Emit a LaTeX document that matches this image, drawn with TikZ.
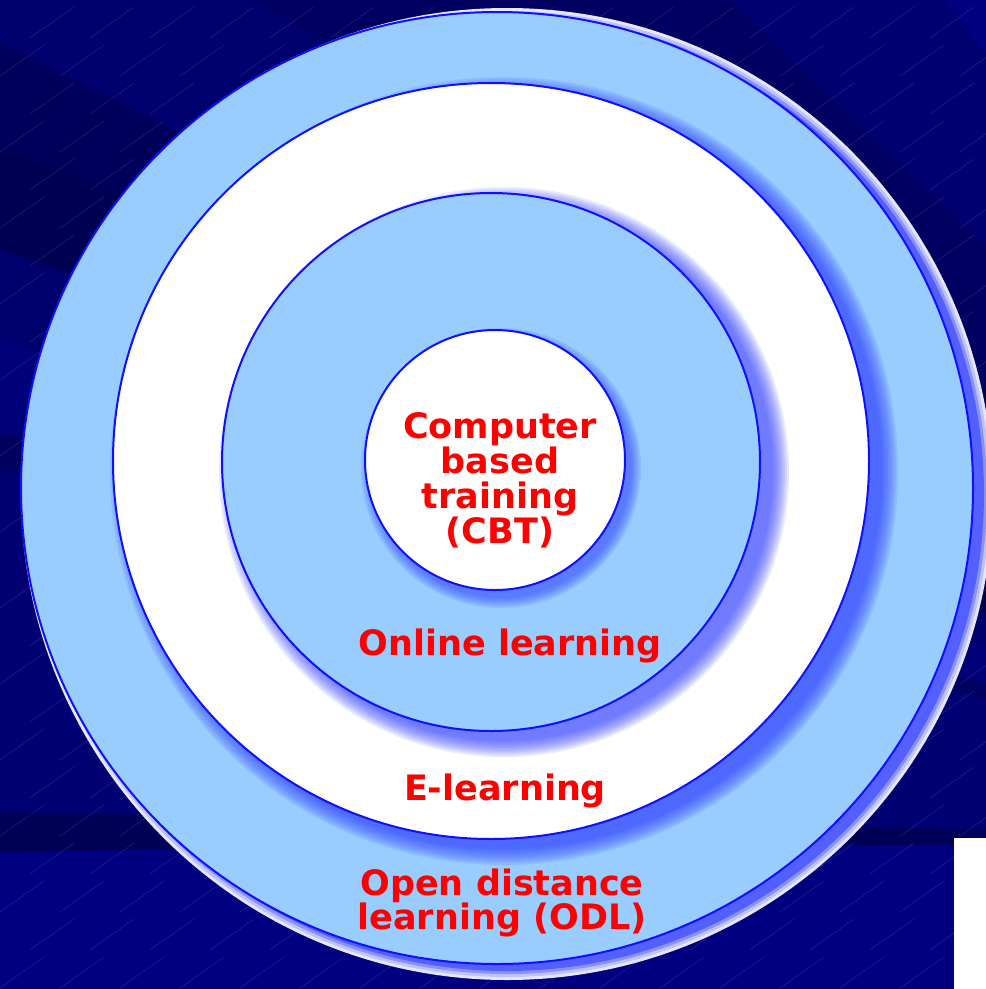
\documentclass[tikz,border=0pt]{standalone}
\usepackage{fontspec}
\newfontfamily\lblfont{DejaVu Sans}
\usetikzlibrary{calc}
\definecolor{bgnavy}{RGB}{0,0,128}
\definecolor{ringfill}{RGB}{153,204,255}
\definecolor{ringline}{RGB}{16,16,255}
\definecolor{shadeblue}{RGB}{40,56,255}
\tikzset{
  ring/.style={draw=ringline, line width=2pt},
  lbl/.style={text=red, inner sep=0pt, align=center, font=\lblfont\bfseries\fontsize{35}{35}\selectfont},
  streak/.style={white!70!bgnavy, opacity=0.2, line width=0.5pt}
}

\begin{document}
\begin{tikzpicture}[x=1pt,y=-1pt]
  \useasboundingbox (0,0) rectangle (986,989);
  \clip (0,0) rectangle (986,989);
  \fill[bgnavy] (0,0) rectangle (986,989);
  \coordinate (sun) at (1600,840);
  \foreach \a/\b/\p in {-0.4/1/68, 1/13/90, 13/14.3/74, 14.3/17.4/94, 17.4/20.3/84, 20.3/23.5/64, 23.5/26.5/72, 26.5/32/86, 32/44/76, 44/52/88}
    \fill[bgnavy!\p!black] (sun) -- +({-2600*cos(\a)},{-2600*sin(\a)}) -- +({-2600*cos(\b)},{-2600*sin(\b)}) -- cycle;
  \foreach \i in {0,...,17}
    \foreach \j in {0,...,26}
      \draw[streak] ({\i*60+mod(\j,2)*30},{\j*38}) -- ++(44,-31);
  \fill[white] (954,838) rectangle (986,989);

  \coordinate (odlc) at (497,488);
  \coordinate (elc) at (491,461);
  \coordinate (olc) at (491,462);
  \coordinate (cbtc) at (495,460);

  \foreach \s/\m in {10/12, 7/30, 4/55, 1/80}
    \fill[shadeblue!\m!white] ($(odlc)+(10,6)$) circle (476+\s);
  \draw[ring, fill=ringfill] (odlc) circle (476);

  \foreach \s in {18,16,...,2}
    \fill[shadeblue, opacity=0.11] ($(elc)+(13,10)$) circle (376+\s);
  \draw[ring, fill=white] (elc) circle (378);

  \foreach \s in {18,16,...,2}
    \fill[shadeblue, opacity=0.11] ($(olc)+(13,10)$) circle (267+\s);
  \draw[ring, fill=ringfill] (olc) circle (269);

  \foreach \s in {10,8,...,0}
    \fill[shadeblue, opacity=0.12] ($(cbtc)+(6,8)$) circle (130+\s);
  \draw[ring, fill=white] (cbtc) circle (130);

  \node[lbl] (cbt) at (500,480) {Computer\\based\\training\\(CBT)};
  \node[lbl, anchor=base] (online) at (510,655) {Online learning};
  \node[lbl, anchor=base] (elearn) at (505,800) {E-learning};
  \node[lbl, font=\lblfont\bfseries\fontsize{35}{31}\selectfont] (odl) at (502,903) {Open distance\\learning (ODL)};
\end{tikzpicture}
\end{document}
